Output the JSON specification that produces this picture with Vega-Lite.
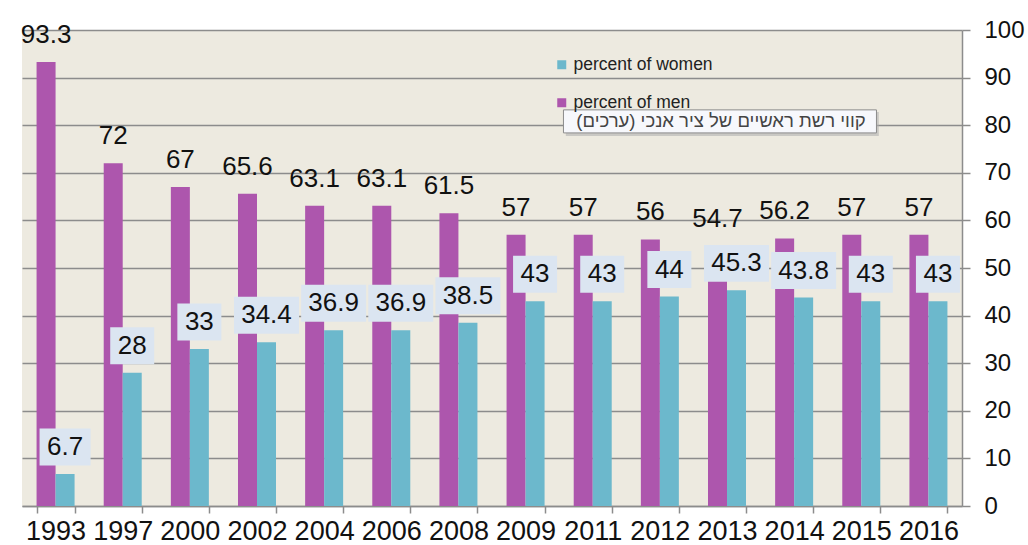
{
  "$schema": "https://vega.github.io/schema/vega-lite/v6.json",
  "width": 940,
  "height": 476,
  "autosize": "none",
  "padding": {"left": 22, "top": 30, "right": 66, "bottom": 39},
  "background": "white",
  "config": {
    "view": {"fill": "#edeae0", "stroke": null},
    "font": "Liberation Sans",
    "legend": {"padding": 0}
  },
  "data": {
    "values": [
      {"year": "1993", "sex": "percent of men", "value": 93.3},
      {"year": "1993", "sex": "percent of women", "value": 6.7},
      {"year": "1997", "sex": "percent of men", "value": 72},
      {"year": "1997", "sex": "percent of women", "value": 28},
      {"year": "2000", "sex": "percent of men", "value": 67},
      {"year": "2000", "sex": "percent of women", "value": 33},
      {"year": "2002", "sex": "percent of men", "value": 65.6},
      {"year": "2002", "sex": "percent of women", "value": 34.4},
      {"year": "2004", "sex": "percent of men", "value": 63.1},
      {"year": "2004", "sex": "percent of women", "value": 36.9},
      {"year": "2006", "sex": "percent of men", "value": 63.1},
      {"year": "2006", "sex": "percent of women", "value": 36.9},
      {"year": "2008", "sex": "percent of men", "value": 61.5},
      {"year": "2008", "sex": "percent of women", "value": 38.5},
      {"year": "2009", "sex": "percent of men", "value": 57},
      {"year": "2009", "sex": "percent of women", "value": 43},
      {"year": "2011", "sex": "percent of men", "value": 57},
      {"year": "2011", "sex": "percent of women", "value": 43},
      {"year": "2012", "sex": "percent of men", "value": 56},
      {"year": "2012", "sex": "percent of women", "value": 44},
      {"year": "2013", "sex": "percent of men", "value": 54.7},
      {"year": "2013", "sex": "percent of women", "value": 45.3},
      {"year": "2014", "sex": "percent of men", "value": 56.2},
      {"year": "2014", "sex": "percent of women", "value": 43.8},
      {"year": "2015", "sex": "percent of men", "value": 57},
      {"year": "2015", "sex": "percent of women", "value": 43},
      {"year": "2016", "sex": "percent of men", "value": 57},
      {"year": "2016", "sex": "percent of women", "value": 43}
    ]
  },
  "layer": [
    {
      "mark": {"type": "bar"},
      "encoding": {
        "x": {
          "field": "year",
          "type": "nominal",
          "scale": {"paddingInner": 0.434, "paddingOuter": 0.217},
          "axis": {
            "title": null,
            "labelAngle": 0,
            "labelFontSize": 27,
            "labelColor": "#111",
            "labelPadding": 5,
            "tickBand": "extent",
            "tickSize": 7,
            "tickColor": "#8c8c8c",
            "tickWidth": 1.5,
            "domainColor": "#8c8c8c",
            "domainWidth": 1.5,
            "grid": false
          }
        },
        "y": {
          "field": "value",
          "type": "quantitative",
          "scale": {"domain": [0, 100], "nice": false},
          "axis": {
            "orient": "right",
            "title": null,
            "values": [0, 10, 20, 30, 40, 50, 60, 70, 80, 90, 100],
            "labelFontSize": 24,
            "labelColor": "#111",
            "labelPadding": 14,
            "tickSize": 8,
            "tickColor": "#8c8c8c",
            "tickWidth": 1.5,
            "domainColor": "#8c8c8c",
            "domainWidth": 1.5,
            "grid": true,
            "gridColor": "#8c8c8c",
            "gridWidth": 1.5
          }
        },
        "xOffset": {"field": "sex", "type": "nominal", "scale": {"domain": ["percent of men", "percent of women"], "paddingInner": 0, "paddingOuter": 0}},
        "color": {
          "field": "sex",
          "type": "nominal",
          "scale": {"domain": ["percent of men", "percent of women"], "range": ["#ad56ad", "#6cb8cc"]},
          "legend": {
            "title": null,
            "orient": "none",
            "legendX": 531,
            "legendY": 26,
            "values": ["percent of women", "percent of men"],
            "symbolType": "square",
            "symbolSize": 81,
            "symbolStrokeWidth": 0,
            "labelFontSize": 17.5,
            "labelColor": "#222",
            "labelOffset": 3,
            "rowPadding": 19
          }
        }
      }
    },
    {
      "transform": [{"filter": "datum.sex == 'percent of men'"}],
      "mark": {"type": "text", "dy": -27, "fontSize": 26, "color": "#111", "baseline": "middle"},
      "encoding": {
        "x": {"field": "year", "type": "nominal"},
        "y": {"field": "value", "type": "quantitative"},
        "xOffset": {"field": "sex", "type": "nominal"},
        "text": {"field": "value", "type": "nominal"}
      }
    },
    {
      "transform": [{"filter": "datum.sex == 'percent of women'"}],
      "mark": {"type": "point", "filled": true, "fill": "#dbe5f1", "opacity": 1, "size": 4225, "yOffset": -27, "strokeWidth": 0},
      "encoding": {
        "x": {"field": "year", "type": "nominal"},
        "y": {"field": "value", "type": "quantitative"},
        "xOffset": {"field": "sex", "type": "nominal"},
        "shape": {
          "condition": [
            {"test": "datum.value < 10", "value": "M-0.785,-0.569H0.785V0.569H-0.785Z"},
            {"test": "datum.value % 1 == 0", "value": "M-0.677,-0.569H0.677V0.569H-0.677Z"}
          ],
          "value": "M-1,-0.569H1V0.569H-1Z"
        }
      }
    },
    {
      "transform": [{"filter": "datum.sex == 'percent of women'"}],
      "mark": {"type": "text", "dy": -27, "fontSize": 26, "color": "#111", "baseline": "middle"},
      "encoding": {
        "x": {"field": "year", "type": "nominal"},
        "y": {"field": "value", "type": "quantitative"},
        "xOffset": {"field": "sex", "type": "nominal"},
        "text": {"field": "value", "type": "nominal"}
      }
    },
    {
      "data": {"values": [{"note": "קווי רשת ראשיים של ציר אנכי (ערכים)\u200f"}]},
      "mark": {"type": "point", "filled": true, "fill": "#b0b0b0", "opacity": 0.6, "strokeWidth": 0, "size": 97969},
      "encoding": {
        "x": {"datum": "2013", "type": "nominal"},
        "y": {"datum": 80.8, "type": "quantitative"},
        "shape": {"value": "M-1.03,-0.06H0.97V0.093H-1.03Z"}
      }
    },
    {
      "data": {"values": [{"note": "קווי רשת ראשיים של ציר אנכי (ערכים)\u200f"}]},
      "mark": {"type": "point", "filled": true, "fill": "#f7f8fc", "opacity": 1, "stroke": "#8c8c8c", "strokeWidth": 1, "size": 97969},
      "encoding": {
        "x": {"datum": "2013", "type": "nominal"},
        "y": {"datum": 80.8, "type": "quantitative"},
        "shape": {"value": "M-1.045,-0.0735H0.955V0.0735H-1.045Z"}
      }
    },
    {
      "data": {"values": [{"note": "קווי רשת ראשיים של ציר אנכי (ערכים)\u200f"}]},
      "mark": {"type": "text", "fontSize": 18.5, "color": "#444", "baseline": "middle", "dx": -6},
      "encoding": {
        "x": {"datum": "2013", "type": "nominal"},
        "y": {"datum": 80.8, "type": "quantitative"},
        "text": {"field": "note", "type": "nominal"}
      }
    }
  ]
}
